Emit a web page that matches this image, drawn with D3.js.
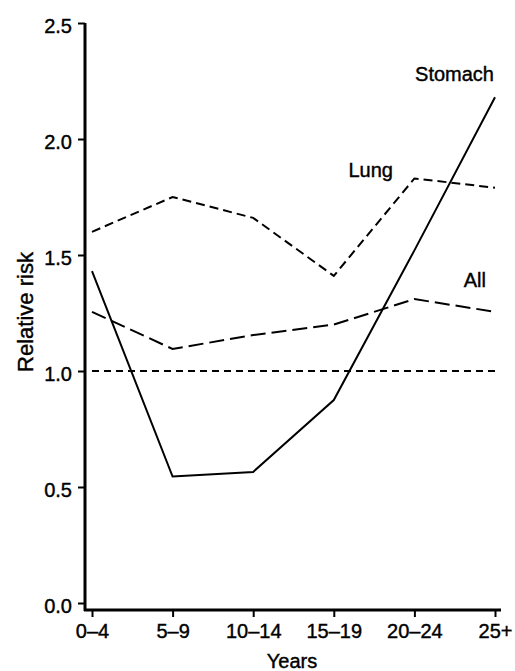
<!DOCTYPE html>
<html>
<head>
<meta charset="utf-8">
<script src="https://cdn.jsdelivr.net/npm/d3@7"></script>
<style>
  html, body { margin: 0; padding: 0; background: #fff; }
  svg { display: block; }
  text { font-family: "Liberation Sans", Arial, Helvetica, sans-serif; fill: #000; stroke: #000; stroke-width: 0.4px; }
</style>
</head>
<body>
<svg id="chart" width="515" height="671"></svg>
<script>
// ---- data ----
const categories = ["0\u20134", "5\u20139", "10\u201314", "15\u201319", "20\u201324", "25+"];
const stomach = [1.43, 0.545, 0.565, 0.875, 1.52, 2.18];
const lung    = [1.60, 1.75, 1.66, 1.41, 1.83, 1.79];
const allSites = [1.255, 1.095, 1.155, 1.20, 1.31, 1.255];
const reference = [1.0, 1.0, 1.0, 1.0, 1.0, 1.0];
const yTicks = [0.0, 0.5, 1.0, 1.5, 2.0, 2.5];
const seriesNames = ["Stomach", "Lung", "All"];

// ---- layout ----
const svg = d3.select("#chart");
const x = d3.scalePoint().domain(categories).range([92, 495]);
const y = d3.scaleLinear().domain([0, 2.5]).range([603, 23]);
const axisX = 85, axisY = 610;

// y axis
const gy = svg.append("g").attr("transform", `translate(${axisX},0)`)
  .call(d3.axisLeft(y).tickValues(yTicks).tickFormat(d3.format(".1f")).tickSize(7).tickPadding(6));
gy.select(".domain").remove();
gy.selectAll(".tick line").attr("stroke", "#000").attr("stroke-width", 2);
gy.selectAll(".tick text").attr("font-size", 20).attr("dy", "0.48em")
  .style("font-family", "'Liberation Sans', Arial, sans-serif");
svg.append("line").attr("x1", axisX).attr("x2", axisX).attr("y1", y(2.5)).attr("y2", axisY + 1)
  .attr("stroke", "#000").attr("stroke-width", 3);

// x axis
const gx = svg.append("g").attr("transform", `translate(0,${axisY})`)
  .call(d3.axisBottom(x).tickSize(7).tickPadding(7));
gx.select(".domain").remove();
gx.selectAll(".tick line").attr("stroke", "#000").attr("stroke-width", 2);
gx.selectAll(".tick text").attr("font-size", 20)
  .style("font-family", "'Liberation Sans', Arial, sans-serif");
svg.append("line").attr("x1", axisX - 1).attr("x2", x(categories[5]) + 6).attr("y1", axisY).attr("y2", axisY)
  .attr("stroke", "#000").attr("stroke-width", 3);

// axis titles
svg.append("text").attr("x", (axisX + x(categories[5])) / 2 + 2).attr("y", 668)
  .attr("text-anchor", "middle").attr("font-size", 20).text("Years");
svg.append("text").attr("transform", "translate(33,312) rotate(-90)")
  .attr("text-anchor", "middle").attr("font-size", 22).text("Relative risk");

// lines
const line = d3.line().x((d, i) => x(categories[i])).y(d => y(d));
svg.append("path").datum(reference).attr("d", line).attr("fill", "none")
  .attr("stroke", "#000").attr("stroke-width", 2).attr("stroke-dasharray", "7,5");
svg.append("path").datum(lung).attr("d", line).attr("fill", "none")
  .attr("stroke", "#000").attr("stroke-width", 2).attr("stroke-dasharray", "9,5");
svg.append("path").datum(allSites).attr("d", line).attr("fill", "none")
  .attr("stroke", "#000").attr("stroke-width", 2).attr("stroke-dasharray", "15,6");
svg.append("path").datum(stomach).attr("d", line).attr("fill", "none")
  .attr("stroke", "#000").attr("stroke-width", 2);

// series labels
svg.append("text").attr("x", x(categories[5]) - 1).attr("y", y(stomach[5]) - 16)
  .attr("text-anchor", "end").attr("font-size", 20).text(seriesNames[0]);
svg.append("text").attr("x", x(categories[4]) - 66).attr("y", y(lung[4]) - 1)
  .attr("text-anchor", "start").attr("font-size", 20).text(seriesNames[1]);
svg.append("text").attr("x", x(categories[5]) - 9).attr("y", y(allSites[5]) - 25)
  .attr("text-anchor", "end").attr("font-size", 20).text(seriesNames[2]);
</script>
</body>
</html>
